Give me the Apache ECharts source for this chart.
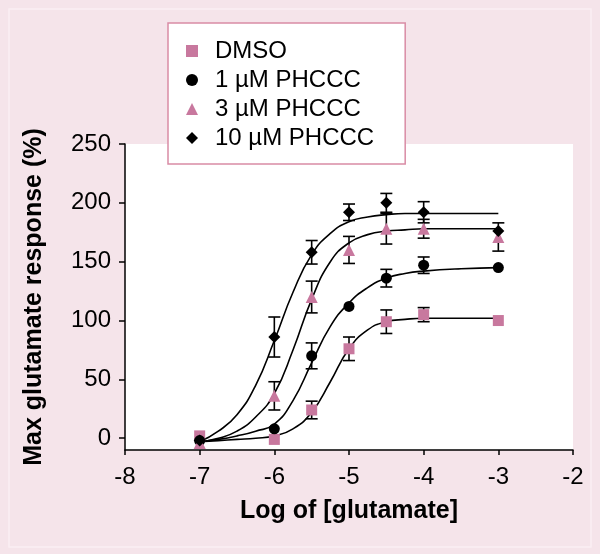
<!DOCTYPE html>
<html>
<head>
<meta charset="utf-8">
<script src="https://cdn.jsdelivr.net/npm/echarts@6/dist/echarts.min.js"></script>
<style>
  html, body { margin: 0; padding: 0; background: #f5e4ea; }
  #chart { width: 600px; height: 554px; }
</style>
</head>
<body>
<div id="chart"></div>
<script>
// ---- Data ----
const xTicks = [-8, -7, -6, -5, -4, -3, -2];
const yTicks = [0, 50, 100, 150, 200, 250];

const doseLog = [-7, -6, -5.5, -5, -4.5, -4, -3];

const dmsoMean = [2, -1, 24, 76, 99, 105, 100];
const dmsoSem  = [0, 0, 7.5, 10, 10, 6, 0];

const phc1Mean = [-2, 8, 70, 112, 136, 147, 145];
const phc1Sem  = [0, 0, 11, 0, 7.5, 7, 0];

const phc3Mean = [-4, 36, 120, 160, 178, 178, 171];
const phc3Sem  = [0, 12, 13.5, 11.5, 13, 8, 12];

const phc10Mean = [-2, 86, 158, 192, 200, 192, 176];
const phc10Sem  = [0, 17, 10, 7, 8, 9, 0];

// fitted curves
const fitX     = [-7, -6.75, -6.5, -6.25, -6, -5.75, -5.5, -5.25, -5, -4.75, -4.5, -4.25, -4, -3.5, -3];
const fitDmso  = [-3, -2, -1, 0, 2, 8, 22, 48, 76, 92, 99, 101, 102, 102, 102];
const fitPhc1  = [-3, -1, 2, 6, 12, 32, 64, 95, 115, 128, 136, 140, 142, 144, 145];
const fitPhc3  = [-3, 0, 6, 18, 38, 75, 118, 150, 166, 173, 176, 177, 178, 178, 178];
const fitPhc10 = [-3, 6, 20, 45, 83, 124, 156, 174, 184, 188, 190, 191, 191, 191, 191];

const names = ['DMSO', '1 µM PHCCC', '3 µM PHCCC', '10 µM PHCCC'];

// ---- Styling ----
const PINK = '#c8789e';
const FONT = '"Liberation Sans", Arial, Helvetica, sans-serif';

const pairs = (xs, ys) => xs.map((x, i) => [x, ys[i]]);
const triples = (xs, ys, es) => xs.map((x, i) => [x, ys[i], es[i]]);

function fitSeries(name, ys) {
  return {
    name: name, type: 'line', data: pairs(fitX, ys),
    showSymbol: false, symbol: 'none', smooth: 0.5,
    lineStyle: { color: '#000', width: 1.6 }, z: 2, silent: true
  };
}

function errSeries(name, ys, es) {
  return {
    name: name, type: 'custom', data: triples(doseLog, ys, es), z: 3, silent: true,
    encode: { x: 0, y: 1 },
    renderItem: function (params, api) {
      const x = api.value(0), y = api.value(1), e = api.value(2);
      if (!e) return null;
      const t = api.coord([x, y + e]);
      const b = api.coord([x, y - e]);
      const w = 6;
      const st = { stroke: '#000', lineWidth: 1.6 };
      return {
        type: 'group',
        children: [
          { type: 'line', shape: { x1: t[0], y1: t[1], x2: b[0], y2: b[1] }, style: st },
          { type: 'line', shape: { x1: t[0] - w, y1: t[1], x2: t[0] + w, y2: t[1] }, style: st },
          { type: 'line', shape: { x1: b[0] - w, y1: b[1], x2: b[0] + w, y2: b[1] }, style: st }
        ]
      };
    }
  };
}

function pointSeries(name, ys, symbol, size, color) {
  return {
    name: name, type: 'scatter', data: pairs(doseLog, ys),
    symbol: symbol, symbolSize: size,
    itemStyle: { color: color, opacity: 1 }, z: 4
  };
}

const chart = echarts.init(document.getElementById('chart'), null, { renderer: 'canvas' });

chart.setOption({
  animation: false,
  backgroundColor: '#f5e4ea',
  graphic: [{
    type: 'rect', shape: { x: 9, y: 9, width: 582, height: 538 }, silent: true, z: -10,
    style: { fill: 'none', stroke: '#faeef3', lineWidth: 1.5 }
  }],
  grid: {
    left: 125, right: 27, top: 144, bottom: 104,
    show: true, backgroundColor: '#ffffff', borderWidth: 0
  },
  legend: {
    data: [
      { name: names[0], icon: 'rect' },
      { name: names[1], icon: 'circle' },
      { name: names[2], icon: 'triangle' },
      { name: names[3], icon: 'diamond' }
    ],
    orient: 'vertical',
    left: 168, top: 23,
    padding: [16, 31, 14, 18],
    itemGap: 5, itemWidth: 12, itemHeight: 12,
    backgroundColor: '#ffffff', borderColor: '#d98ca5', borderWidth: 1.5,
    selectedMode: false,
    textStyle: { fontSize: 24, color: '#000', fontFamily: FONT, lineHeight: 24, padding: [0, 0, 0, 12] }
  },
  xAxis: {
    type: 'value', min: -8, max: -2, interval: 1,
    name: 'Log of [glutamate]', nameLocation: 'middle', nameGap: 49,
    nameTextStyle: { fontSize: 25, fontWeight: 'bold', color: '#000', fontFamily: FONT },
    axisLine: { show: true, onZero: false, lineStyle: { color: '#000', width: 1.5 } },
    axisTick: { show: true, length: 5, lineStyle: { color: '#000', width: 1.5 } },
    axisLabel: { fontSize: 24, color: '#000', fontFamily: FONT, margin: 15, customValues: xTicks },
    splitLine: { show: false }
  },
  yAxis: {
    type: 'value', min: -10, max: 250,
    name: 'Max glutamate response (%)', nameLocation: 'middle', nameGap: 78, nameRotate: 90,
    nameTextStyle: { fontSize: 25, fontWeight: 'bold', color: '#000', fontFamily: FONT },
    axisLine: { show: true, onZero: false, lineStyle: { color: '#000', width: 1.5 } },
    axisTick: { show: true, length: 6, customValues: yTicks, lineStyle: { color: '#000', width: 1.5 } },
    axisLabel: { fontSize: 24, color: '#000', fontFamily: FONT, margin: 14, customValues: yTicks },
    splitLine: { show: false }
  },
  series: [
    fitSeries('DMSO fit', fitDmso),
    fitSeries('1 µM PHCCC fit', fitPhc1),
    fitSeries('3 µM PHCCC fit', fitPhc3),
    fitSeries('10 µM PHCCC fit', fitPhc10),
    errSeries('DMSO SEM', dmsoMean, dmsoSem),
    errSeries('1 µM PHCCC SEM', phc1Mean, phc1Sem),
    errSeries('3 µM PHCCC SEM', phc3Mean, phc3Sem),
    errSeries('10 µM PHCCC SEM', phc10Mean, phc10Sem),
    pointSeries(names[0], dmsoMean, 'rect', 11, PINK),
    pointSeries(names[1], phc1Mean, 'circle', 11, '#000'),
    pointSeries(names[2], phc3Mean, 'triangle', 12, PINK),
    pointSeries(names[3], phc10Mean, 'diamond', 12, '#000')
  ]
});
</script>
</body>
</html>
